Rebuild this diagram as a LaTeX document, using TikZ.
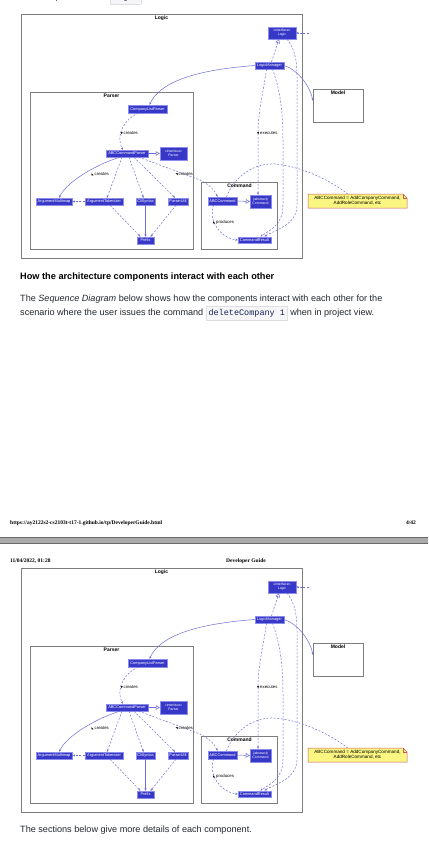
\documentclass[tikz,border=0pt]{standalone}
\usepackage{fontspec}
\setmainfont{Liberation Sans}
\newfontfamily\serifft{Liberation Serif}
\newfontfamily\monoft{Liberation Mono}
\newfontfamily\symft{DejaVu Sans}
\usetikzlibrary{arrows.meta}
\definecolor{clsfill}{RGB}{55,55,200}
\definecolor{clsbd}{RGB}{140,140,235}
\definecolor{edgec}{RGB}{110,110,215}
\definecolor{frm}{RGB}{125,125,125}
\definecolor{notef}{RGB}{251,246,130}
\definecolor{noteb}{RGB}{200,90,100}
\definecolor{codebg}{RGB}{246,246,248}
\definecolor{codebd}{RGB}{222,222,228}
\definecolor{codefg}{RGB}{25,35,80}
\definecolor{bodytx}{RGB}{36,41,46}
\definecolor{barf}{RGB}{170,170,170}
\definecolor{barl}{RGB}{105,105,105}
\newcommand\mymk[1]{{\symft\fontsize{3}{3}\selectfont #1}}
\newcommand\mycode[1]{{\setlength\fboxsep{2.3pt}\setlength\fboxrule{0.4pt}\fcolorbox{codebd}{codebg}{\monoft\fontsize{8.5}{9}\selectfont\color{codefg}\strut #1}}}
\tikzset{
 cls/.style={fill=clsfill, draw=clsbd, line width=0.4pt, text=white, inner sep=0pt, font=\fontsize{3.9}{4.2}\selectfont, align=center},
 ifc/.style={cls, font=\fontsize{3.5}{4}\selectfont},
 framebox/.style={draw=frm, line width=0.8pt, inner sep=0pt, anchor=north west},
 ftitle/.style={font=\bfseries\fontsize{5}{6}\selectfont, anchor=north, inner sep=0.5pt},
 dep/.style={draw=edgec, line width=0.5pt, dash pattern=on 2pt off 1.6pt, -{Stealth[length=2.6pt,width=2.2pt]}},
 assoc/.style={draw=edgec, line width=0.5pt, -{Stealth[length=2.6pt,width=2.2pt]}},
 realize/.style={draw=edgec, line width=0.5pt, dash pattern=on 2pt off 1.6pt, -{Triangle[open,length=4pt,width=4.5pt,fill=white]}},
 inherit/.style={draw=edgec, line width=0.5pt, -{Triangle[open,length=4pt,width=4.5pt,fill=white]}},
 notelink/.style={draw=edgec, line width=0.5pt, dash pattern=on 2pt off 1.6pt},
 elabel/.style={font=\fontsize{4.3}{5}\selectfont, inner sep=0pt, anchor=west},
 bodytext/.style={anchor=base west, inner sep=0pt, text=bodytx, font=\fontsize{9.1}{11}\selectfont},
 hdrtext/.style={inner sep=0pt, font=\serifft\bfseries\fontsize{5.5}{6}\selectfont},
}
\newcommand\logicdiagram{%
 \node[framebox, minimum width=281pt, minimum height=244pt] (flogic) at (21,14) {};
 \node[ftitle] (tlogic) at (161.5,15) {Logic};
 \node[framebox, minimum width=50pt, minimum height=33pt] (fmodel) at (313,89) {};
 \node[ftitle] (tmodel) at (338,90) {Model};
 \node[framebox, minimum width=163pt, minimum height=157pt] (fparser) at (30,92) {};
 \node[ftitle] (tparser) at (111.5,93) {Parser};
 \node[framebox, minimum width=76pt, minimum height=67pt] (fcmd) at (201,182) {};
 \node[ftitle] (tcmd) at (239.5,183) {Command};
 \filldraw[fill=notef, draw=noteb, line width=0.5pt] (308,194) -- (403,194) -- (407,198) -- (407,208) -- (308,208) -- cycle;
 \draw[noteb, line width=0.4pt] (403,194) -- (403,198) -- (407,198);
 \node[inner sep=0pt, minimum width=99pt, minimum height=14pt, align=center, font=\fontsize{4.6}{5.2}\selectfont] (note) at (357.5,201) {ABCCommand = AddCompanyCommand,\\AddRoleCommand, etc};
 \node[ifc, minimum width=28pt, minimum height=12pt] (logicI) at (282,33) {«interface»\\Logic};
 \node[cls, minimum width=29pt, minimum height=7pt] (lm) at (269.5,65.5) {LogicManager};
 \node[cls, minimum width=39pt, minimum height=8pt] (clp) at (147.5,109) {CompanyListParser};
 \node[cls, minimum width=42pt, minimum height=7pt] (acp) at (127,153.5) {ABCCommandParser};
 \node[ifc, minimum width=27pt, minimum height=13pt] (parserI) at (173.5,153.5) {«interface»\\Parser};
 \node[cls, minimum width=36pt, minimum height=7pt] (amm) at (54,201.5) {ArgumentMultimap};
 \node[cls, minimum width=38pt, minimum height=7pt] (atk) at (104,201.5) {ArgumentTokenizer};
 \node[cls, minimum width=19pt, minimum height=7pt] (cli) at (145.5,201.5) {CliSyntax};
 \node[cls, minimum width=20pt, minimum height=7pt] (pu) at (178,201.5) {ParserUtil};
 \node[cls, minimum width=17pt, minimum height=7pt] (prefix) at (145.5,240.5) {Prefix};
 \node[cls, minimum width=29pt, minimum height=8pt] (abc) at (222.5,201) {ABCCommand};
 \node[ifc, minimum width=21pt, minimum height=13pt] (cmd) at (260.5,201.5) {\{abstract\}\\Command};
 \node[cls, minimum width=33pt, minimum height=6.5pt] (cr) at (254.5,240) {CommandResult};
 \coordinate (ho) at (309,33);
 % edges
 \draw[dep] (ho) -- (logicI.east);
 \draw[realize] ([xshift=2pt]lm.north) -- ([xshift=-3pt]logicI.south);
 \draw[assoc] (lm.west) .. controls (195,70) and (160,82) .. ([xshift=2pt]clp.north);
 \draw[assoc] (lm.east) .. controls (298,70) and (310,86) .. ([yshift=5pt]fmodel.west);
 \draw[dep] ([xshift=-3pt]lm.south) .. controls (263,95) and (258,110) .. (258,135) -- ([xshift=-2.5pt]cmd.north);
 \draw[dep] ([xshift=3pt]lm.south) .. controls (280,90) and (283,110) .. (283,140) -- (283,205) .. controls (283,225) and (270,230) .. ([xshift=6pt]cr.north);
 \draw[dep] ([xshift=5pt]logicI.south) .. controls (292,45) and (297,55) .. (297,75) -- (297,205) .. controls (297,225) and (275,230) .. ([xshift=10pt]cr.north);
 \draw[notelink] ([xshift=4pt]abc.north) .. controls (235,175) and (255,163) .. (275,164) .. controls (300,166) and (330,180) .. ([xshift=-10pt]note.north);
 \draw[dep] ([xshift=-9pt]abc.south) .. controls (208,220) and (220,238) .. (cr.west);
 \draw[inherit] (abc.east) -- (cmd.west);
 \draw[dep] ([xshift=-9pt]clp.south) .. controls (125,118) and (115,135) .. ([xshift=-4pt]acp.north);
 \draw[inherit] (acp.east) -- (parserI.west);
 \draw[assoc] ([xshift=-7pt]acp.south) .. controls (100,163) and (68,180) .. ([xshift=5pt]amm.north);
 \draw[dep] ([xshift=-5pt]acp.south) -- ([xshift=3pt]atk.north);
 \draw[dep] ([xshift=2pt]acp.south) -- ([xshift=-2pt]cli.north);
 \draw[dep] ([xshift=7pt]acp.south) -- ([xshift=-3pt]pu.north);
 \draw[dep] ([xshift=12pt]acp.south) -- (200,180) .. controls (208,184) and (214,189) .. ([xshift=-5pt]abc.north);
 \draw[dep] (atk.west) -- (amm.east);
 \draw[dep] ([xshift=6pt]atk.south) -- ([xshift=-5pt]prefix.north);
 \draw[assoc] (cli.south) -- (prefix.north);
 \draw[dep] ([xshift=-2pt]pu.south) -- ([xshift=5pt]prefix.north);
 % edge labels
 \node[elabel] (lcreates1) at (120.5,133) {\mymk{▼}\,creates};
 \node[elabel] (lcreates2) at (91.5,174) {\mymk{◣}\,creates};
 \node[elabel] (lcreates3) at (175.5,174) {\mymk{◥}\,creates};
 \node[elabel] (lexec) at (257,133) {\mymk{▼}\,executes};
 \node[elabel] (lprod) at (213,222) {\mymk{◣}\,produces};
}
\begin{document}
\begin{tikzpicture}[x=1pt, y=-1pt]
\useasboundingbox (0,0) rectangle (428,861);
\fill[white] (0,0) rectangle (428,861);
% top line, cut off by the page edge as in the reference
\node[bodytext] (toptext) at (20,-0.8) {which implements the \mycode{Logic} interface.};
\begin{scope}[name prefix=A-]
\logicdiagram
\end{scope}
\node[anchor=base west, inner sep=0pt, text=black, font=\bfseries\fontsize{9.2}{11}\selectfont] (head) at (20,279.5) {How the architecture components interact with each other};
\node[bodytext] (para1) at (20,301.5) {The \textit{Sequence Diagram} below shows how the components interact with each other for the};
\node[bodytext] (para2) at (20,315) {scenario where the user issues the command \mycode{deleteCompany 1} when in project view.};
% page footer / header
\node[hdrtext, anchor=base west] (url) at (10,524) {https://ay2122s2-cs2103t-t17-1.github.io/tp/DeveloperGuide.html};
\node[hdrtext, anchor=base east] (pgno) at (416,524) {4/42};
\fill[barf] (0,537) rectangle (428,544);
\draw[barl, line width=0.8pt] (0,537.4) -- (428,537.4);
\draw[barl, line width=0.6pt] (0,543.7) -- (428,543.7);
\node[hdrtext, anchor=base west] (date) at (10,562) {11/04/2022, 01:28};
\node[hdrtext, anchor=base] (dguide) at (246,562) {Developer Guide};
\begin{scope}[shift={(0,554)}, name prefix=B-]
\logicdiagram
\end{scope}
\node[bodytext] (bottom) at (20,832) {The sections below give more details of each component.};
\end{tikzpicture}
\end{document}
